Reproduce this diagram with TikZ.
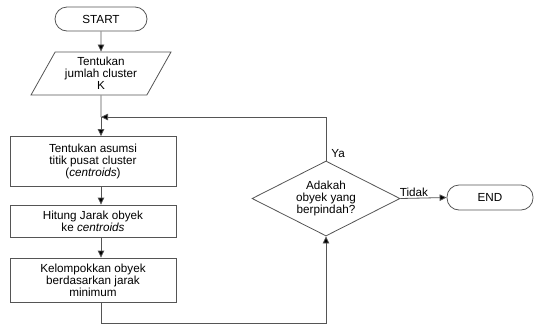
\documentclass[tikz,border=0pt]{standalone}
\usepackage{fontspec}
\setmainfont{Liberation Sans}
\usepackage{xcolor}
\usepackage{tikz}
\usetikzlibrary{positioning, arrows.meta, shapes.geometric, calc}
\definecolor{fcgray}{RGB}{85, 85, 85}
\tikzset{
  term/.style={
    draw=fcgray, line width=0.8pt, rounded corners=12pt,
    minimum width=92pt, minimum height=24pt, inner sep=2pt,
  },
  inbox/.style={
    draw=fcgray, line width=0.8pt,
    trapezium, trapezium left angle=55, trapezium right angle=125,
    trapezium stretches body,
    minimum width=140pt, minimum height=43pt, inner sep=1pt,
    align=center,
  },
  proc/.style={
    draw=fcgray, line width=0.8pt,
    minimum width=166pt, inner sep=2pt, align=center,
  },
  cond/.style={
    draw=fcgray, line width=0.8pt, diamond, aspect=2,
    minimum width=148pt, minimum height=75pt, inner sep=0pt,
    align=center,
  },
  link/.style={draw=fcgray, line width=0.8pt,
    -{Triangle[length=7pt, width=6.5pt, fill=black]}},
  plain/.style={draw=fcgray, line width=0.8pt},
  tag/.style={inner sep=1pt},
}
\newcommand{\fc}{\fontsize{11.7}{12}\selectfont}

\begin{document}
\begin{tikzpicture}[x=1pt, y=-1pt, font=\fc]
\useasboundingbox (0,0) rectangle (534,325);

\node[term] (start) at (101,19) {START};
\node[inbox] (jumlah) at (101,73.5) {Tentukan\\jumlah cluster\\K};
\node[proc, minimum height=50pt] (asumsi) at (93,161.5) {Tentukan asumsi\\titik pusat cluster\\(\textit{centroids})};
\node[proc, minimum height=32pt] (hitung) at (93,221) {Hitung Jarak obyek\\ke \textit{centroids}};
\node[proc, minimum height=44pt] (kelompok) at (93,280) {Kelompokkan obyek\\berdasarkan jarak\\minimum};
\node[cond] (pindah) at (326,198.5) {Adakah\\obyek yang\\berpindah?};
\node[term, minimum width=86pt, minimum height=25pt] (end) at (490,197.5) {END};

\coordinate (join) at (101,117);
\coordinate (bottom) at (101,323);

\draw[link] (start) -- (jumlah);
\draw[plain] (jumlah) -- (join);
\draw[link] (join) -- (join |- asumsi.north);
\draw[link] (asumsi.south -| join) -- (hitung.north -| join);
\draw[link] (hitung.south -| join) -- (kelompok.north -| join);
\draw[link] (kelompok.south -| bottom) -- (bottom) -| (pindah.south);
\draw[link] (pindah.north) |- (join)
  node[tag, pos=0, anchor=south west, xshift=4pt, yshift=2pt] {Ya};
\draw[link] (pindah.east) -- (end.west)
  node[tag, pos=0, anchor=south west, xshift=-2pt] {Tidak};

\end{tikzpicture}
\end{document}
